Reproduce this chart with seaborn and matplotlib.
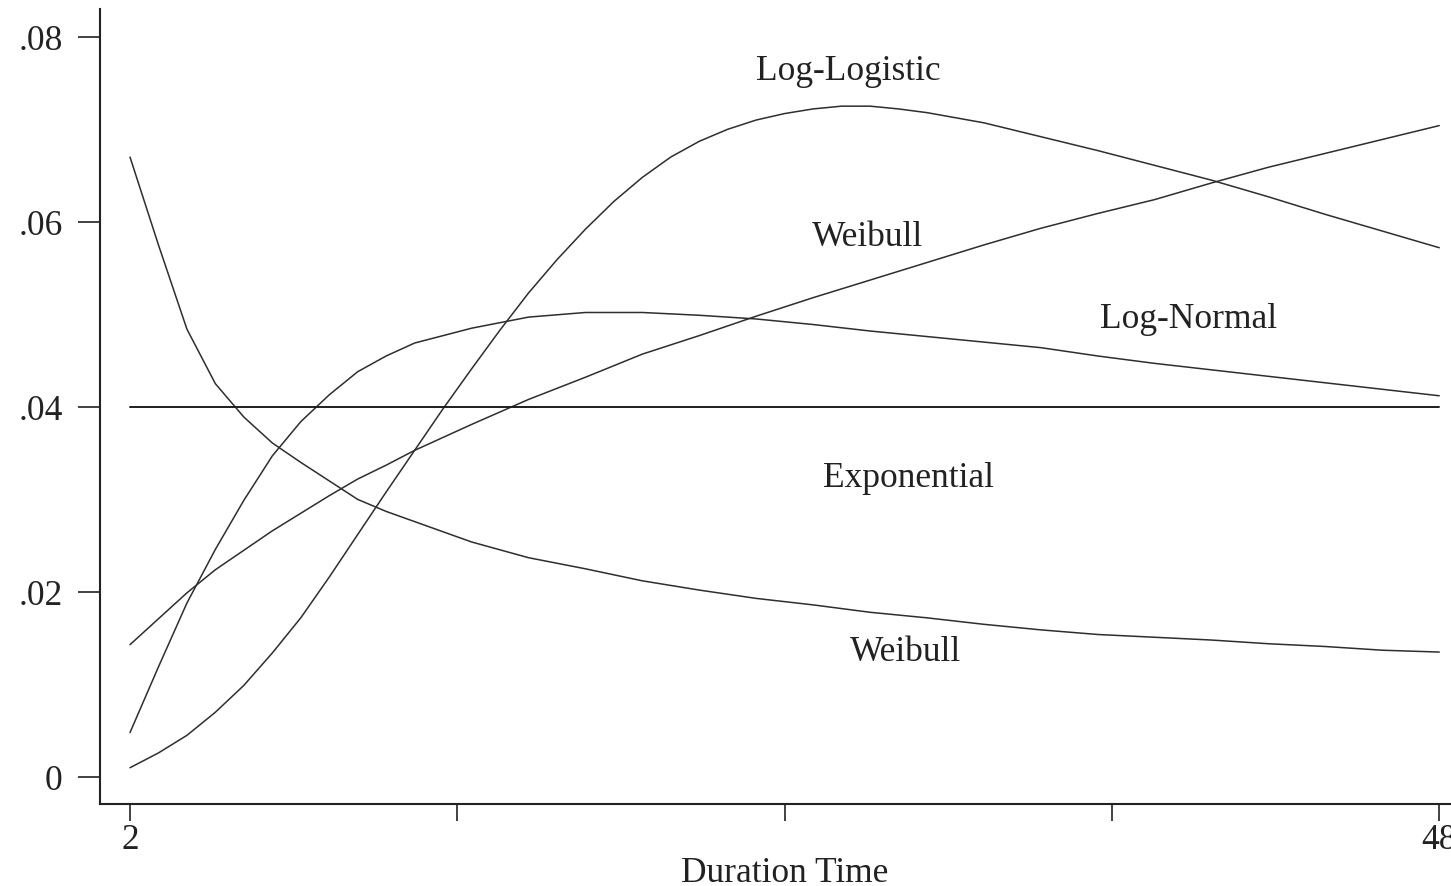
import pandas as pd
import seaborn as sns
import matplotlib.pyplot as plt

# Valores (riesgo por duracion)
dur_ll = [2, 3, 4, 5, 6, 7, 8, 9, 10, 11, 12, 13, 14, 15, 16, 17, 18, 19, 20,
          21, 22, 23, 24, 25, 26, 27, 28, 29, 30, 32, 34, 36, 38, 40, 42, 44, 46, 48]
log_logistic = [0.0010, 0.0026, 0.0045, 0.0070, 0.0099, 0.0134, 0.0172, 0.0216,
                0.0262, 0.0308, 0.0353, 0.0398, 0.0441, 0.0483, 0.0523, 0.0559,
                0.0592, 0.0622, 0.0648, 0.0670, 0.0687, 0.0700, 0.0710, 0.0717,
                0.0722, 0.0725, 0.0725, 0.0722, 0.0718, 0.0707, 0.0692, 0.0677,
                0.0661, 0.0645, 0.0627, 0.0608, 0.0590, 0.0572]

duracion = [2, 3, 4, 5, 6, 7, 8, 9, 10, 11, 12, 14, 16, 18, 20, 22, 24,
            26, 28, 30, 32, 34, 36, 38, 40, 42, 44, 46, 48]

log_normal = [0.0048, 0.0119, 0.0188, 0.0246, 0.0299, 0.0347, 0.0384, 0.0413,
              0.0438, 0.0455, 0.0469, 0.0485, 0.0497, 0.0502, 0.0502, 0.0499,
              0.0495, 0.0489, 0.0482, 0.0476, 0.0470, 0.0464, 0.0455, 0.0447,
              0.0440, 0.0433, 0.0426, 0.0419, 0.0412]

weibull_sube = [0.0143, 0.0171, 0.0199, 0.0224, 0.0245, 0.0266, 0.0285, 0.0304,
                0.0322, 0.0337, 0.0353, 0.0381, 0.0408, 0.0432, 0.0457, 0.0477,
                0.0498, 0.0518, 0.0537, 0.0556, 0.0575, 0.0593, 0.0609, 0.0624,
                0.0642, 0.0659, 0.0674, 0.0689, 0.0704]

weibull_baja = [0.0670, 0.0575, 0.0484, 0.0425, 0.0389, 0.0361, 0.0340, 0.0320,
                0.0300, 0.0287, 0.0276, 0.0254, 0.0237, 0.0225, 0.0212, 0.0202,
                0.0193, 0.0186, 0.0178, 0.0172, 0.0165, 0.0159, 0.0154, 0.0151,
                0.0148, 0.0144, 0.0141, 0.0137, 0.0135]

expo_x = [2, 48]
expo_y = [0.04, 0.04]

etiquetas = ["Log-Logistic", "Weibull", "Log-Normal", "Exponential", "Weibull"]
etiq_x = [27.23, 27.9, 39.18, 29.34, 29.23]
etiq_y = [0.0763, 0.0584, 0.0496, 0.0324, 0.0136]

y_ticks = [0, 0.02, 0.04, 0.06, 0.08]
y_labels = ["0", ".02", ".04", ".06", ".08"]
x_ticks = [2, 13.5, 25, 36.5, 48]
x_labels = ["2", "", "", "", "48"]

sns.set_theme(style="ticks")
plt.rcParams["font.family"] = ["Liberation Serif", "DejaVu Serif"]

fig = plt.figure(figsize=(14.51, 8.87), dpi=100)
ax = fig.add_axes([100 / 1451, 82 / 887, 1370 / 1451, 795 / 887])

color = "#2e2e2e"
curvas = [(dur_ll, log_logistic), (duracion, log_normal),
          (duracion, weibull_sube), (duracion, weibull_baja)]
for xs, serie in curvas:
    df = pd.DataFrame({"Duration": xs, "Hazard": serie})
    sns.lineplot(data=df, x="Duration", y="Hazard", ax=ax, color=color,
                 linewidth=1.1, estimator=None, sort=False)

df_exp = pd.DataFrame({"Duration": expo_x, "Hazard": expo_y})
sns.lineplot(data=df_exp, x="Duration", y="Hazard", ax=ax, color="#1e1e1e",
             linewidth=1.4, estimator=None, sort=False)

for texto, tx, ty in zip(etiquetas, etiq_x, etiq_y):
    ax.text(tx, ty, texto, ha="center", va="center", fontsize=25.5, color="#222222")

ax.set_xlim(0.946, 49.08)
ax.set_ylim(-0.00292, 0.0830)
ax.set_xticks(x_ticks)
ax.set_xticklabels(x_labels)
ax.set_yticks(y_ticks)
ax.set_yticklabels(y_labels)
ax.tick_params(axis="y", length=16, width=1.2, pad=11, labelsize=25.5, colors="#222222")
ax.tick_params(axis="x", length=12, width=1.2, pad=2, labelsize=25.5, colors="#222222")
ax.set_xlabel("Duration Time", fontsize=25.5, color="#222222", labelpad=0)
ax.set_ylabel("")

sns.despine(ax=ax)
for s in ["left", "bottom"]:
    ax.spines[s].set_linewidth(1.5)
    ax.spines[s].set_color("#222222")

fig.savefig("out.png", dpi=100)
